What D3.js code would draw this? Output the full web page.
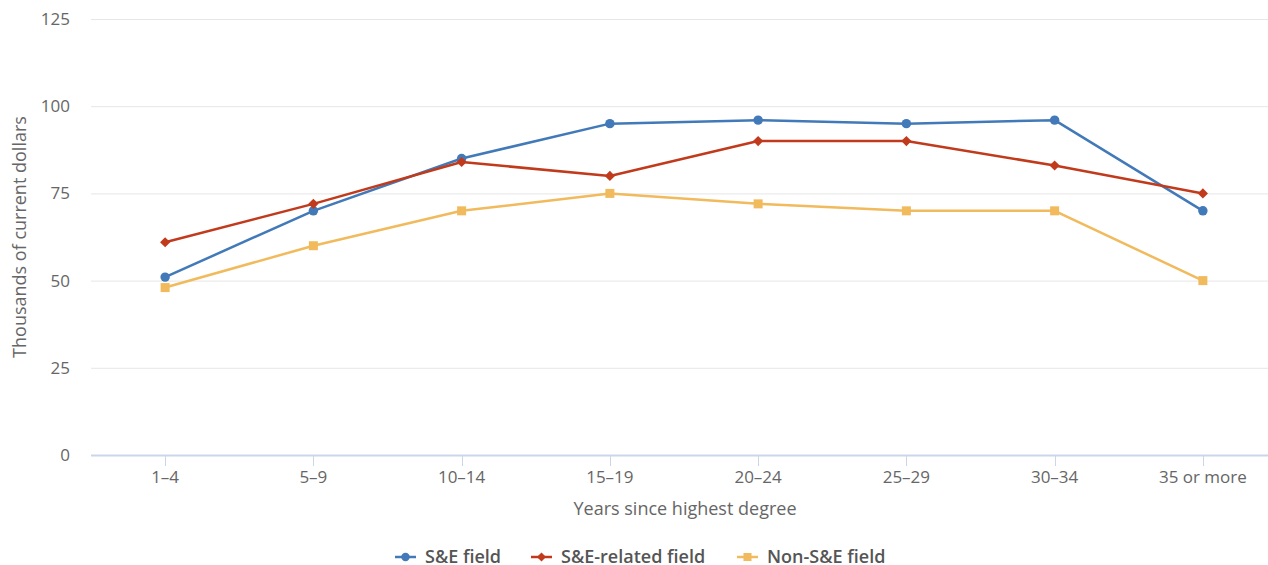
<!DOCTYPE html>
<html>
<head>
<meta charset="utf-8">
<script src="https://cdn.jsdelivr.net/npm/d3@7"></script>
<style>
  body { margin: 0; background: #fff; }
  svg { font-family: "Open Sans", "Noto Sans", sans-serif; }
</style>
</head>
<body>
<div id="chart"></div>
<script>
var categories = ["1–4", "5–9", "10–14", "15–19", "20–24", "25–29", "30–34", "35 or more"];
var seField        = [51, 70, 85, 95, 96, 95, 96, 70];
var seRelatedField = [61, 72, 84, 80, 90, 90, 83, 75];
var nonSeField     = [48, 60, 70, 75, 72, 70, 70, 50];
var yTicks = [0, 25, 50, 75, 100, 125];

// highcharts style diamond: a square turned 45 degrees
var diamond = {
    draw: function(context, size) {
        var r = Math.sqrt(size) / 2 * 1.2;
        context.moveTo(0, -r);
        context.lineTo(r, 0);
        context.lineTo(0, r);
        context.lineTo(-r, 0);
        context.closePath();
    }
};

var series = [
    { name: "S&E field",         values: seField,        color: "#4279b8", symbol: d3.symbolCircle, size: 70 },
    { name: "S&E-related field", values: seRelatedField, color: "#c13a1c", symbol: diamond,         size: 72 },
    { name: "Non-S&E field",     values: nonSeField,     color: "#f1ba5c", symbol: d3.symbolSquare, size: 81 }
];

var width = 1268, height = 565;
var svg = d3.select("#chart").append("svg")
    .attr("width", width)
    .attr("height", height);

var x = d3.scaleBand()
    .domain(categories)
    .range([91, 1277]);

var y = d3.scaleLinear()
    .domain([0, 125])
    .range([455, 19]);

// gridlines
svg.append("g").selectAll("line")
    .data(yTicks.slice(1))
    .enter().append("line")
        .attr("x1", 91).attr("x2", width)
        .attr("y1", function(d) { return y(d) + 0.5; })
        .attr("y2", function(d) { return y(d) + 0.5; })
        .attr("stroke", "#e6e6e6")
        .attr("stroke-width", 1);

// y labels
svg.append("g").selectAll("text")
    .data(yTicks)
    .enter().append("text")
        .attr("x", 70)
        .attr("y", function(d) { return y(d) + 6; })
        .attr("text-anchor", "end")
        .attr("fill", "#666")
        .style("font-size", "17px")
        .text(function(d) { return d; });

svg.append("text")
    .attr("transform", "translate(26, 237) rotate(-90)")
    .attr("text-anchor", "middle")
    .attr("fill", "#666")
    .style("font-size", "18px")
    .text("Thousands of current dollars");

// x axis
var xAxis = svg.append("g");
xAxis.append("line")
    .attr("x1", 91).attr("x2", width)
    .attr("y1", 455.5).attr("y2", 455.5)
    .attr("stroke", "#ccd6eb")
    .attr("stroke-width", 2);
xAxis.selectAll(".tick")
    .data(categories)
    .enter().append("line")
        .attr("x1", function(d) { return Math.round(x(d) + x.bandwidth() / 2) + 0.5; })
        .attr("x2", function(d) { return Math.round(x(d) + x.bandwidth() / 2) + 0.5; })
        .attr("y1", 455).attr("y2", 466)
        .attr("stroke", "#ccd6eb");
xAxis.selectAll("text")
    .data(categories)
    .enter().append("text")
        .attr("x", function(d) { return x(d) + x.bandwidth() / 2; })
        .attr("y", 483)
        .attr("text-anchor", "middle")
        .attr("fill", "#666")
        .style("font-size", "17px")
        .text(function(d) { return d; });

svg.append("text")
    .attr("x", 685)
    .attr("y", 515)
    .attr("text-anchor", "middle")
    .attr("fill", "#666")
    .style("font-size", "18px")
    .text("Years since highest degree");

// lines + markers
var line = d3.line()
    .x(function(d, i) { return x(categories[i]) + x.bandwidth() / 2; })
    .y(function(d) { return y(d); });

series.forEach(function(s) {
    var g = svg.append("g");
    g.append("path")
        .datum(s.values)
        .attr("fill", "none")
        .attr("stroke", s.color)
        .attr("stroke-width", 2.5)
        .attr("stroke-linejoin", "round")
        .attr("d", line);
    g.selectAll("path.marker")
        .data(s.values)
        .enter().append("path")
            .attr("class", "marker")
            .attr("transform", function(d, i) {
                return "translate(" + (x(categories[i]) + x.bandwidth() / 2) + "," + y(d) + ")";
            })
            .attr("fill", s.color)
            .attr("d", d3.symbol().type(s.symbol).size(s.size));
});

// legend
var legendX = [395, 531, 737];
var legend = svg.append("g");
series.forEach(function(s, i) {
    var lg = legend.append("g").attr("transform", "translate(" + legendX[i] + ", 557)");
    lg.append("line")
        .attr("x1", 0).attr("x2", 21)
        .attr("stroke", s.color)
        .attr("stroke-width", 2.5);
    lg.append("path")
        .attr("transform", "translate(10.5, 0)")
        .attr("fill", s.color)
        .attr("d", d3.symbol().type(s.symbol).size(s.size * 0.8));
    lg.append("text")
        .attr("x", 30)
        .attr("y", 0)
        .attr("dy", "0.35em")
        .attr("fill", "#555")
        .style("font-size", "18px")
        .style("font-weight", "600")
        .text(s.name);
});
</script>
</body>
</html>
